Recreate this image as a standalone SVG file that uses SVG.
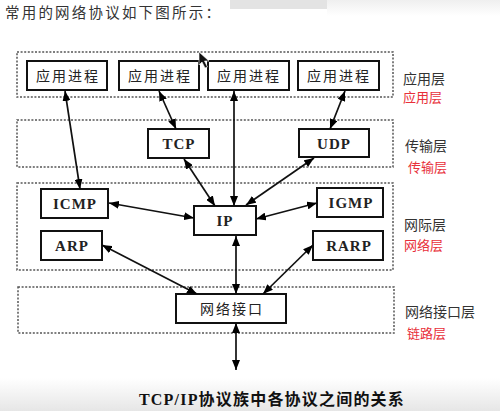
<svg xmlns="http://www.w3.org/2000/svg" width="500" height="411" viewBox="0 0 500 411">
<defs>
<marker id="ah" viewBox="0 0 10 8" refX="10" refY="4" markerWidth="10" markerHeight="8" markerUnits="userSpaceOnUse" orient="auto-start-reverse">
<path d="M0,0 L10,4 L0,8 z" fill="#000"/>
</marker>
<linearGradient id="botg" x1="0" y1="0" x2="0" y2="1">
<stop offset="0" stop-color="#ffffff"/>
<stop offset="1" stop-color="#e6e6e6"/>
</linearGradient>
<linearGradient id="topg" x1="0" y1="0" x2="0" y2="1">
<stop offset="0" stop-color="#efefef"/>
<stop offset="1" stop-color="#ffffff"/>
</linearGradient>
</defs>
<style>
.layer{fill:none;stroke:#555;stroke-width:1.5;stroke-dasharray:2,1.6}
.box{fill:#fff;stroke:#111;stroke-width:2}
.cn{font-family:"Noto Sans CJK SC",sans-serif;font-size:14px;fill:#222;text-anchor:middle;letter-spacing:2px}
.en{font-family:"Liberation Serif","Noto Sans CJK SC",serif;font-size:15px;font-weight:bold;fill:#222;text-anchor:middle;letter-spacing:1px}
.lbl{font-family:"Noto Sans CJK SC",sans-serif;font-size:14px;fill:#333}
.red{font-family:"Noto Sans CJK SC",sans-serif;font-size:13px;fill:#e8303a}
.conn line{stroke:#111;stroke-width:1.7;marker-start:url(#ah);marker-end:url(#ah)}
</style>
<rect width="500" height="411" fill="#fff"/>
<rect x="327" y="0" width="173" height="16" fill="url(#topg)"/>
<rect x="230" y="0" width="97" height="9" fill="#e3e3e3"/>
<rect x="0" y="378" width="500" height="33" fill="url(#botg)"/>
<text x="5" y="18" font-family="Noto Sans CJK SC, sans-serif" font-size="14.5" fill="#333" letter-spacing="2.2">常用的网络协议如下图所示：</text>

<g id="layers">
<rect class="layer" x="17" y="52" width="376" height="45"/>
<rect class="layer" x="17" y="120" width="376" height="47"/>
<rect class="layer" x="17" y="183" width="376" height="87"/>
<rect class="layer" x="18" y="287" width="376" height="46"/>
</g>

<g id="app1"><rect class="box" x="27" y="61" width="80" height="29"/><text class="cn" x="68" y="81">应用进程</text></g>
<g id="app2"><rect class="box" x="119" y="61" width="80" height="29"/><text class="cn" x="160" y="81">应用进程</text></g>
<g id="app3"><rect class="box" x="208" y="61" width="81" height="29"/><text class="cn" x="249" y="81">应用进程</text></g>
<g id="app4"><rect class="box" x="298" y="61" width="81" height="29"/><text class="cn" x="339" y="81">应用进程</text></g>
<g id="tcp"><rect class="box" x="148" y="129" width="61" height="29"/><text class="en" x="179" y="149">TCP</text></g>
<g id="udp"><rect class="box" x="299" y="129" width="70" height="28"/><text class="en" x="334" y="149">UDP</text></g>
<g id="icmp"><rect class="box" x="41" y="189" width="67" height="29"/><text class="en" x="75" y="209">ICMP</text></g>
<g id="arp"><rect class="box" x="41" y="231" width="61" height="29"/><text class="en" x="72" y="251">ARP</text></g>
<g id="ip"><rect class="box" x="194" y="206" width="62" height="29"/><text class="en" x="225" y="226">IP</text></g>
<g id="igmp"><rect class="box" x="317" y="188" width="66" height="29"/><text class="en" x="351" y="208">IGMP</text></g>
<g id="rarp"><rect class="box" x="313" y="231" width="70" height="29"/><text class="en" x="349" y="251">RARP</text></g>
<g id="netif"><rect class="box" x="176" y="294" width="110" height="29"/><text class="cn" x="232" y="314">网络接口</text></g>

<g id="labels">
<text class="lbl" x="403" y="84">应用层</text>
<text class="red" x="403" y="102">应用层</text>
<text class="lbl" x="405" y="151">传输层</text>
<text class="red" x="408" y="172">传输层</text>
<text class="lbl" x="404" y="230">网际层</text>
<text class="red" x="404" y="250">网络层</text>
<text class="lbl" x="405" y="317">网络接口层</text>
<text class="red" x="407" y="338">链路层</text>
</g>

<g id="connectors" class="conn">
<line x1="65" y1="91" x2="80" y2="189"/>
<line x1="159" y1="91" x2="176" y2="129"/>
<line x1="234" y1="91" x2="234" y2="206"/>
<line x1="345" y1="91" x2="330" y2="129"/>
<line x1="184" y1="159" x2="215" y2="206"/>
<line x1="314" y1="158" x2="246" y2="205"/>
<line x1="109" y1="203" x2="194" y2="218"/>
<line x1="317" y1="203" x2="256" y2="219"/>
<line x1="102" y1="245" x2="197" y2="294"/>
<line x1="236" y1="236" x2="236" y2="294"/>
<line x1="313" y1="245" x2="263" y2="294"/>
<line x1="236" y1="323" x2="236" y2="370"/>
</g>

<path d="M199,52 L199,65 L202,62 L205,68 L207.5,67 L204.5,61 L209,61 z" fill="#111" stroke="#fff" stroke-width="0.6"/>

<text x="272" y="405" text-anchor="middle" font-family="Liberation Serif, Noto Sans CJK SC, serif" font-size="16" font-weight="bold" fill="#111" letter-spacing="1.2">TCP/IP协议族中各协议之间的关系</text>
</svg>
